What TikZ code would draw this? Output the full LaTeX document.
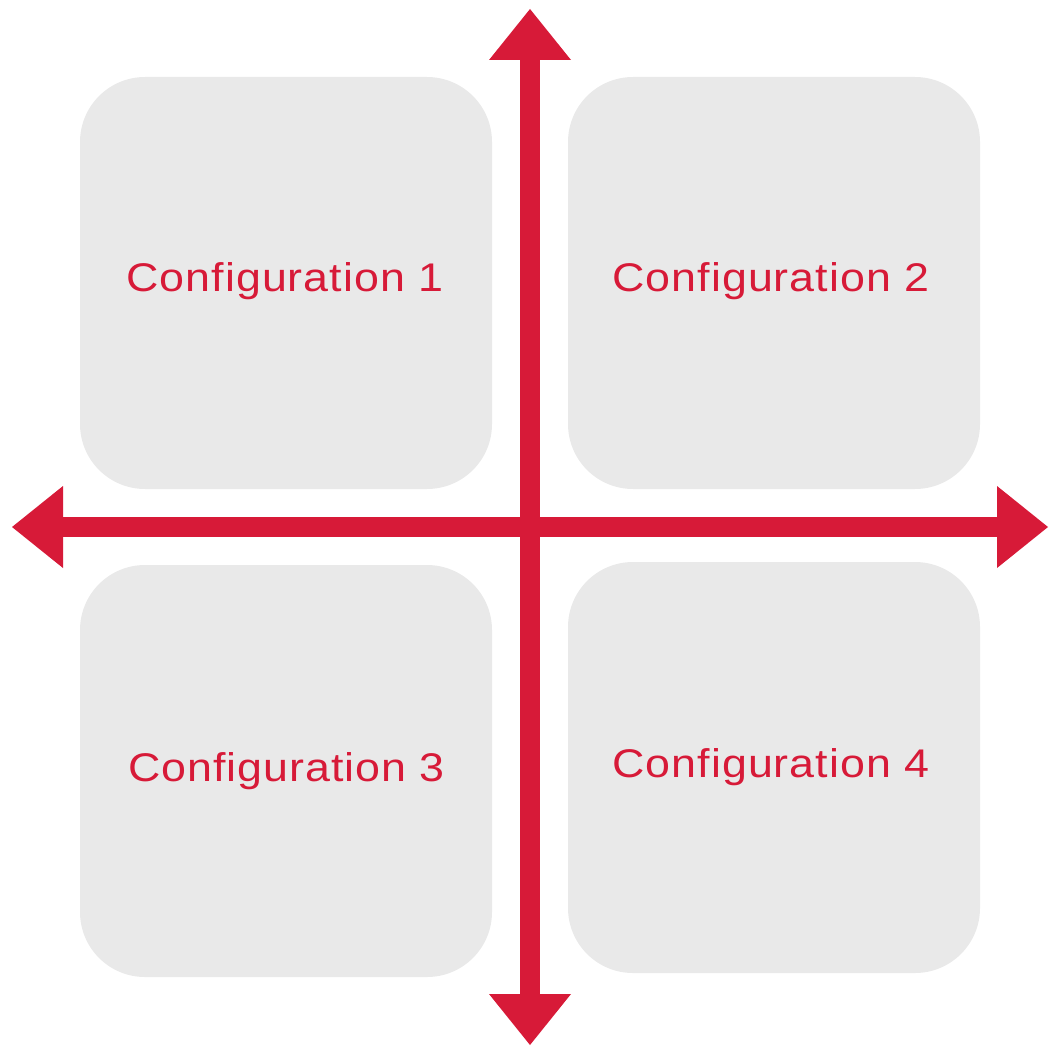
\documentclass[tikz,border=0pt]{standalone}
\usepackage{fontspec}
\setmainfont{Liberation Sans}[FakeStretch=1.12,LetterSpace=2.5]
\definecolor{axisred}{HTML}{D71A38}
\definecolor{boxgray}{HTML}{E9E9E9}
\begin{document}
\begin{tikzpicture}[x=1pt,y=-1pt,
  quad/.style={fill=boxgray,draw=none,rounded corners=65pt,minimum width=412pt,minimum height=412pt,inner sep=0pt},
  lbl/.style={anchor=base,text=axisred,inner sep=0pt,font=\fontsize{40}{48}\selectfont},
  axis/.style={fill=axisred}]
\useasboundingbox (0,0) rectangle (1051,1046);
\node[quad] (q1) at (286,283) {};
\node[quad] (q2) at (774,283) {};
\node[quad] (q3) at (286,771) {};
\node[quad,minimum height=411pt] (q4) at (774,767.5) {};
\node[lbl] (t1) at (285,291) {Configuration 1};
\node[lbl] (t2) at (771,291) {Configuration 2};
\node[lbl] (t3) at (286.5,781.5) {Configuration 3};
\node[lbl] (t4) at (771,777) {Configuration 4};
% vertical axis
\fill[axis] (520,59) rectangle (540,995);
\fill[axis] (530,9) -- (571,60) -- (489,60) -- cycle;
\fill[axis] (530,1045) -- (571,994) -- (489,994) -- cycle;
% horizontal axis
\fill[axis] (62,517) rectangle (998,537);
\fill[axis] (12,527) -- (63,486) -- (63,568) -- cycle;
\fill[axis] (1048,527) -- (997,486) -- (997,568) -- cycle;
\end{tikzpicture}
\end{document}
